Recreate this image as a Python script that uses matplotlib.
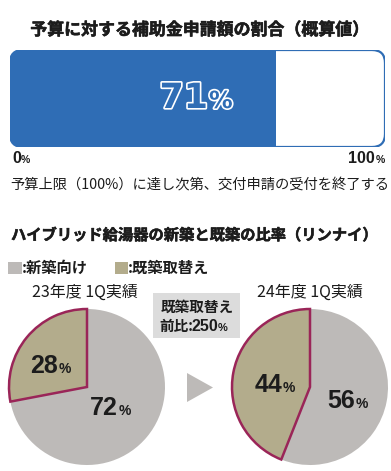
import matplotlib
matplotlib.use('Agg')
import matplotlib.pyplot as plt
import matplotlib.patheffects as pe
from matplotlib.patches import FancyBboxPatch, Rectangle, Polygon

# data
budget_share = 71  # % of budget applied for
pie_labels = ["既築取替え", "新築向け"]
fy23_values = [28, 72]
fy24_values = [44, 56]
pie_titles = ["23年度 1Q実績", "24年度 1Q実績"]
growth_prefix = "前比:"
growth_value = "250"

BLUE = "#2f6db5"
GRAY = "#bdbab8"
OLIVE = "#b3ac8c"
EDGE = "#9a2558"
INK = "#1c1c1c"
JP = ["Noto Sans CJK JP", "DejaVu Sans"]
NUM = ["Liberation Sans", "DejaVu Sans"]

W, H = 391, 471
fig = plt.figure(figsize=(W / 100, H / 100), dpi=100)


def frac(x0, y0, x1, y1):
    # image pixel box -> figure fraction rect
    return [x0 / W, (H - y1) / H, (x1 - x0) / W, (y1 - y0) / H]


# overlay axes in image pixel coords (y down), on top of everything
ax0 = fig.add_axes([0, 0, 1, 1], zorder=3)
ax0.set_xlim(0, W)
ax0.set_ylim(H, 0)
ax0.axis('off')
ax0.patch.set_visible(False)

heavy = [pe.withStroke(linewidth=0.4, foreground=INK)]

# ---- progress bar ----
bx0, by0, bx1, by1 = 10, 50, 385, 147
axb = fig.add_axes(frac(bx0, by0, bx1, by1), zorder=1)
axb.set_xlim(0, 100)
axb.set_ylim(-0.5, 0.5)
axb.axis('off')
axb.patch.set_visible(False)
clip = FancyBboxPatch((bx0, by0), bx1 - bx0, by1 - by0,
                      boxstyle="round,pad=0,rounding_size=13",
                      transform=ax0.transData)
bars = axb.barh(0, budget_share, height=1.0, color=BLUE, zorder=1)
for b in bars:
    b.set_clip_path(clip)
outline = FancyBboxPatch((bx0, by0), bx1 - bx0, by1 - by0,
                         boxstyle="round,pad=0,rounding_size=13",
                         facecolor="none", edgecolor=BLUE, linewidth=1.6,
                         transform=ax0.transData, zorder=2)
axb.add_patch(outline)

stroke = [pe.withStroke(linewidth=2.4, foreground="white")]
ax0.text(208, 108, str(budget_share), ha='right', va='baseline', fontsize=25,
         fontweight='bold', family="DejaVu Sans", color=BLUE, path_effects=stroke)
ax0.text(209, 108, "%", ha='left', va='baseline', fontsize=17,
         fontweight='bold', family="DejaVu Sans", color=BLUE, path_effects=stroke)

ax0.text(199, 30, "予算に対する補助金申請額の割合（概算値）", ha='center', va='center',
         fontsize=12.2, fontweight='bold', family=JP, color=INK, path_effects=heavy)

ax0.text(12, 163, "0", ha='left', va='baseline', fontsize=11.5, fontweight='bold',
         family=NUM, color=INK)
ax0.text(21, 163, "%", ha='left', va='baseline', fontsize=7.5, fontweight='bold',
         family=NUM, color=INK)
ax0.text(375, 163, "100", ha='right', va='baseline', fontsize=11.5, fontweight='bold',
         family=NUM, color=INK)
ax0.text(376, 163, "%", ha='left', va='baseline', fontsize=7.5, fontweight='bold',
         family=NUM, color=INK)
ax0.text(10, 184, "予算上限（100%）に達し次第、交付申請の受付を終了する", ha='left',
         va='center', fontsize=10.3, family=JP, color=INK)

# ---- second chart ----
ax0.text(11, 235, "ハイブリッド給湯器の新築と既築の比率（リンナイ）", ha='left', va='center',
         fontsize=11.0, fontweight='bold', family=JP, color=INK, path_effects=heavy)

ax0.add_patch(Rectangle((8, 262), 14, 12, facecolor=GRAY, edgecolor='none'))
ax0.text(22, 268, ":" + pie_labels[1], ha='left', va='center', fontsize=11,
         fontweight='bold', family=JP, color=INK)
ax0.add_patch(Rectangle((115, 262), 13, 12, facecolor=OLIVE, edgecolor='none'))
ax0.text(128, 268, ":" + pie_labels[0], ha='left', va='center', fontsize=11,
         fontweight='bold', family=JP, color=INK)

ax0.text(85, 292, pie_titles[0], ha='center', va='center', fontsize=11.5,
         family=JP, color=INK)
ax0.text(310, 292, pie_titles[1], ha='center', va='center', fontsize=11.5,
         family=JP, color=INK)

# growth box
ax0.add_patch(Rectangle((153, 293), 87, 45, facecolor="#dcdcdc", edgecolor='none'))
ax0.text(197, 307, pie_labels[0], ha='center', va='center', fontsize=10.5,
         family=JP, fontweight='bold', color=INK)
ax0.text(193, 331, growth_prefix, ha='right', va='baseline', fontsize=10.5,
         family=JP, fontweight='bold', color=INK)
ax0.text(191, 331, growth_value, ha='left', va='baseline', fontsize=11.5,
         family=NUM, fontweight='bold', color=INK)
ax0.text(218, 331, "%", ha='left', va='baseline', fontsize=8,
         family=NUM, fontweight='bold', color=INK)

# arrow triangle
ax0.add_patch(Polygon([(187, 373), (187, 402), (213, 387.5)], closed=True,
                      facecolor=GRAY, edgecolor='none'))

# pies
R = 78
pad = 3


def draw_pie(cx, cy, values):
    ax = fig.add_axes(frac(cx - R - pad, cy - R - pad, cx + R + pad, cy + R + pad), zorder=1)
    wedges, _ = ax.pie(values, colors=[OLIVE, GRAY], startangle=90,
                       counterclock=True, radius=1.0)
    wedges[0].set_edgecolor(EDGE)
    wedges[0].set_linewidth(1.8)
    wedges[0].set_zorder(3)
    wedges[1].set_edgecolor('none')
    lim = (R + pad) / R
    ax.set_xlim(-lim, lim)
    ax.set_ylim(-lim, lim)
    ax.set_aspect('equal')
    ax.axis('off')
    return ax


draw_pie(87, 387, fy23_values)
draw_pie(310, 387, fy24_values)


def pct_label(x, y, val):
    ax0.text(x, y, str(val), ha='right', va='baseline', fontsize=18,
             fontweight='bold', family=NUM, color=INK)
    ax0.text(x + 1, y, "%", ha='left', va='baseline', fontsize=10,
             fontweight='bold', family=NUM, color=INK)


pct_label(58, 373, fy23_values[0])
pct_label(118, 415, fy23_values[1])
pct_label(282, 392, fy24_values[0])
pct_label(355, 408, fy24_values[1])

fig.savefig("out.png", dpi=100, facecolor="white")
